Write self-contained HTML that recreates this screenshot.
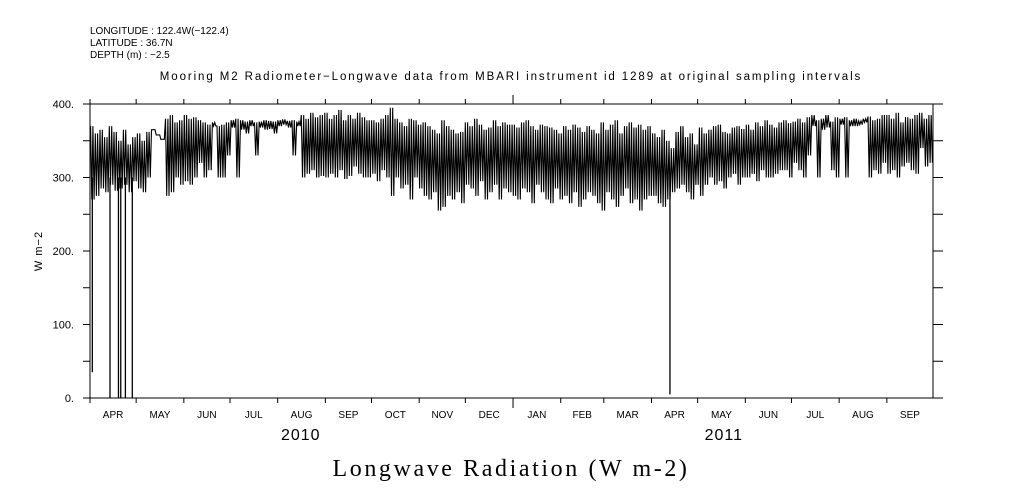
<!DOCTYPE html>
<html><head><meta charset="utf-8"><style>
body{margin:0;background:#fff}
svg{display:block}
text{font-family:"Liberation Sans",sans-serif;fill:#000}
</style></head><body>
<svg id="c" width="1009" height="504" xmlns="http://www.w3.org/2000/svg">
<text x="90" y="34" font-size="10">LONGITUDE : 122.4W(−122.4)</text>
<text x="90" y="46" font-size="10">LATITUDE : 36.7N</text>
<text x="90" y="58" font-size="10">DEPTH (m) : −2.5</text>
<text x="511" y="80" font-size="11.5" letter-spacing="1.9" text-anchor="middle">Mooring M2 Radiometer−Longwave data from MBARI instrument id 1289 at original sampling intervals</text>
<text x="511" y="476" font-size="24" letter-spacing="2.6" text-anchor="middle" style="font-family:'Liberation Serif',serif">Longwave Radiation (W m-2)</text>
<text transform="translate(42,251) rotate(-90)" font-size="11" letter-spacing="1" text-anchor="middle">W m−2</text>
<g id="axes"></g>
<g id="marks"></g>
</svg>
<script>
const months=["APR","MAY","JUN","JUL","AUG","SEP","OCT","NOV","DEC","JAN","FEB","MAR","APR","MAY","JUN","JUL","AUG","SEP"];
const monthDays=[30,31,30,31,31,30,31,30,31,31,28,31,30,31,30,31,31,30];
const years=["2010","2011"];
const yearDays=[137,412];
const yTicks=[0,100,200,300,400];
const hi=[370,360,365,355,370,362,350,365,345,355,
360,350,362,365,358,352,380,385,375,378,
385,380,382,378,375,372,375,370,372,375,
378,380,378,376,378,375,376,378,377,376,
378,379,377,378,376,385,380,388,382,385,
388,380,385,392,378,385,380,388,382,378,
378,375,380,385,395,380,375,370,380,378,
372,375,370,365,360,378,370,365,360,362,
375,370,380,372,365,368,378,370,375,372,
372,368,375,378,370,365,372,370,368,365,
360,370,365,372,368,362,370,365,360,375,
365,372,378,360,370,375,368,372,365,370,
360,355,365,350,340,362,370,355,360,345,
368,360,365,370,372,362,360,368,370,366,
372,365,375,370,378,372,368,375,378,374,
376,380,375,382,385,378,380,385,376,382,
380,382,378,380,377,380,383,378,380,385,
385,380,388,375,382,380,385,388,380,385];
const lo=[270,275,285,280,290,282,285,290,280,295,
285,280,300,365,358,352,275,280,300,290,
295,290,300,320,300,310,370,300,300,330,
368,300,365,360,370,330,368,365,366,360,
370,372,368,330,370,300,305,310,300,302,
300,305,300,310,298,302,315,305,300,300,
305,295,310,300,275,300,285,290,270,300,
285,275,270,280,255,260,275,270,280,265,
290,285,275,295,270,280,290,270,285,280,
275,270,285,280,265,290,280,270,265,285,
270,275,265,280,260,270,280,275,265,255,
280,270,260,275,285,265,270,255,270,275,
275,265,260,270,280,285,290,280,270,290,
275,290,300,290,295,285,300,305,290,300,
300,305,295,310,300,300,305,310,310,300,
320,310,300,330,370,300,365,368,310,300,
372,300,370,370,372,375,300,310,305,320,
305,310,300,315,320,310,305,340,315,320];
const dropDays=[1.5,13,18.5,20,23,27.5,377];
const dropVals=[35,0,0,0,0,0,5];

const X0=90,X1=933,Y0=398,Y1=104;
const totalDays=monthDays.reduce((a,b)=>a+b,0);
const xs=d=>X0+d/totalDays*(X1-X0);
const ys=v=>Y0-v/400*(Y0-Y1);
const NS="http://www.w3.org/2000/svg";
const axes=document.getElementById('axes'),marks=document.getElementById('marks');
function mk(tag,at,parent){const e=document.createElementNS(NS,tag);for(const k in at)e.setAttribute(k,at[k]);parent.appendChild(e);return e;}

const frame=mk('rect',{x:X0,y:Y1,width:X1-X0,height:Y0-Y1,fill:'none',stroke:'#000','stroke-width':1},axes);


for(let v=0;v<=400;v+=50){
  const l=mk('line',{x1:X0-7,x2:X0,y1:ys(v),y2:ys(v),stroke:'#000'},axes);
  
  
  const r=mk('line',{x1:X1,x2:X1+10,y1:ys(v),y2:ys(v),stroke:'#000'},axes);
  
  
}
yTicks.forEach(v=>{
  const t=mk('text',{x:X0-16,y:ys(v)+4,'font-size':11,'text-anchor':'end'},axes);
  t.textContent=v+'.';
  
  
});
let d=0;
months.forEach((m,i)=>{
  const x=xs(d),xm=xs(d+monthDays[i]/2);
  const big=(m==="JAN");
  const tb=mk('line',{x1:x,x2:x,y1:Y0,y2:Y0+(big?10:5),stroke:'#000'},axes);
  
  
  const tt=mk('line',{x1:x,x2:x,y1:Y1-(big?9:5),y2:Y1,stroke:'#000'},axes);
  
  
  const t=mk('text',{x:xm,y:418,'font-size':10,'text-anchor':'middle'},axes);
  t.textContent=m;
  
  
  d+=monthDays[i];
});
years.forEach((y,i)=>{
  const t=mk('text',{x:xs(yearDays[i]),y:440,'font-size':16,'letter-spacing':1,'text-anchor':'middle'},axes);
  t.textContent=y;
  
  
});
const step=totalDays/hi.length;
const sub=2;
let pts=[];
for(let i=0;i<hi.length;i++){
  for(let k=0;k<sub;k++){
    const f=k/sub;
    pts.push(xs(i*step+step*(f+0.25/sub)).toFixed(1)+','+ys(hi[i]).toFixed(1));
    pts.push(xs(i*step+step*(f+0.75/sub)).toFixed(1)+','+ys(lo[i]).toFixed(1));
  }
}
const pl=mk('polyline',{points:pts.join(' '),fill:'none',stroke:'#000','stroke-width':1.1,'stroke-linejoin':'miter'},marks);


dropDays.forEach((dd,i)=>{
  const l=mk('line',{x1:xs(dd),x2:xs(dd),y1:ys(300),y2:ys(dropVals[i]),stroke:'#000','stroke-width':1.3},marks);
  
  
});
</script>
</body></html>
